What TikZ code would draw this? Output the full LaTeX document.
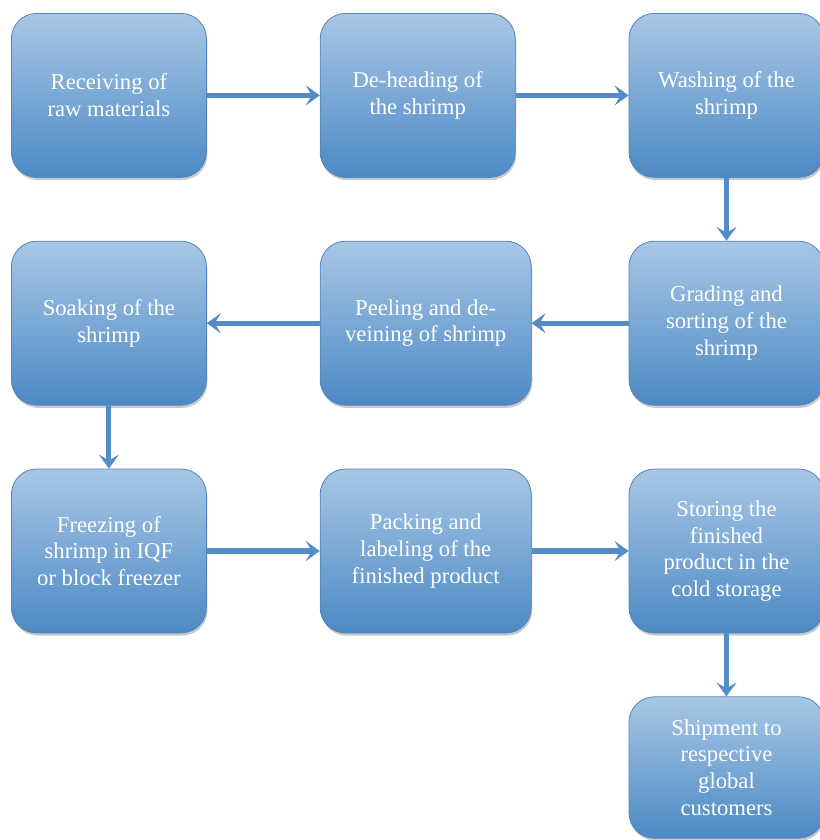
\documentclass[tikz,border=0pt]{standalone}
\usepackage{fontspec}
\setmainfont{Liberation Serif}
\usetikzlibrary{positioning,arrows.meta,shadows}
\definecolor{boxTop}{RGB}{168,199,230}
\definecolor{boxBot}{RGB}{76,137,196}
\definecolor{boxEdge}{RGB}{82,132,190}
\definecolor{flowBlue}{RGB}{84,141,198}
\tikzset{
  proc/.style={draw=boxEdge, line width=0.6pt, rounded corners=19pt,
    top color=boxTop, bottom color=boxBot, text=white, align=center,
    font=\fontsize{17}{20}\selectfont, minimum width=146.25pt,
    minimum height=123pt, inner sep=4pt,
    drop shadow={shadow xshift=0.8pt, shadow yshift=-2pt, opacity=0.35, fill=black!60}},
  wideproc/.style={proc, minimum width=158.25pt},
  flow/.style={-{Stealth[length=10.5pt, width=15pt, inset=4.5pt]}, line width=3.8pt,
    draw=flowBlue},
}

\begin{document}
\begin{tikzpicture}[node distance=47.25pt and 84.75pt]
  \useasboundingbox (0,0) rectangle (615pt,-630pt);
  % first row, left to right
  \node[proc, anchor=north west] (recv) at (8.25pt,-9.75pt) {Receiving of\\raw materials};
  \node[proc, right=of recv] (dehead) {De-heading of\\the shrimp};
  \node[proc, right=of dehead] (wash) {Washing of the\\shrimp};
  % second row, right to left
  \node[proc, below=of wash] (grade) {Grading and\\sorting of the\\shrimp};
  \node[wideproc, below=47.25pt of dehead.south west, anchor=north west] (peel) {Peeling and de-\\veining of shrimp};
  \node[proc, below=of recv] (soak) {Soaking of the\\shrimp};
  % third row
  \node[proc, below=of soak] (freeze) {Freezing of\\shrimp in IQF\\or block freezer};
  \node[wideproc, below=47.25pt of peel.south west, anchor=north west] (pack) {Packing and\\labeling of the\\finished product};
  \node[proc, below=of grade] (store) {Storing the\\finished\\product in the\\cold storage};
  \node[proc, minimum height=106pt, below=of store] (ship) {Shipment to\\respective\\global\\customers};

  \draw[flow] (recv) -- (dehead);
  \draw[flow] (dehead) -- (wash);
  \draw[flow] (wash) -- (grade);
  \draw[flow] (grade) -- (peel);
  \draw[flow] (peel) -- (soak);
  \draw[flow] (soak) -- (freeze);
  \draw[flow] (freeze) -- (pack);
  \draw[flow] (pack) -- (store);
  \draw[flow] (store) -- (ship);
\end{tikzpicture}
\end{document}
